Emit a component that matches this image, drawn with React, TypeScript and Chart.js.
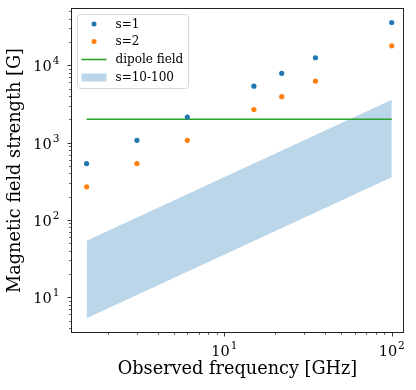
import React, { useEffect, useRef } from 'react';
import { Chart, registerables } from 'chart.js';

Chart.register(...registerables);

// Observed frequency [GHz]
const frequencies = [1.5, 3, 6, 15, 22, 35, 100];
// Magnetic field strength [G]
const fieldS1 = [536, 1071, 2143, 5357, 7857, 12500, 35714];
const fieldS2 = [268, 536, 1071, 2679, 3929, 6250, 17857];
const dipoleX = [1.5, 100];
const dipoleY = [2000, 2000];
const bandX = [1.5, 100];
const bandUpper = [53.6, 3571];
const bandLower = [5.36, 357];
const xMajorTicks = [10, 100];
const xMajorExp = ['1', '2'];
const yMajorTicks = [10, 100, 1000, 10000];
const yMajorExp = ['1', '2', '3', '4'];

const legendItems = [
  { label: 's=1', kind: 'dot', color: '#1f77b4' },
  { label: 's=2', kind: 'dot', color: '#ff7f0e' },
  { label: 'dipole field', kind: 'line', color: '#2ca02c' },
  { label: 's=10-100', kind: 'patch', color: 'rgba(31,119,180,0.3)' },
];

const FONT = '"DejaVu Serif", serif';

const decor = {
  id: 'decor',
  afterDraw(chart: any) {
    const ctx: CanvasRenderingContext2D = chart.ctx;
    const xs = chart.scales.x;
    const ys = chart.scales.y;
    const { left, right, top, bottom } = chart.chartArea;
    ctx.save();
    // frame
    ctx.strokeStyle = '#222';
    ctx.lineWidth = 1;
    ctx.strokeRect(left + 0.5, top + 0.5, right - left - 1, bottom - top - 1);

    // ticks
    ctx.strokeStyle = '#222';
    for (let d = 1; d <= 100000; d *= 10) {
      for (let m = 1; m <= 9; m++) {
        const v = m * d;
        const len = m === 1 ? 3.5 : 2;
        ctx.lineWidth = m === 1 ? 0.9 : 0.7;
        if (v >= xs.min && v <= xs.max) {
          const px = Math.round(xs.getPixelForValue(v)) + 0.5;
          ctx.beginPath();
          ctx.moveTo(px, bottom);
          ctx.lineTo(px, bottom + len);
          ctx.stroke();
        }
        if (v >= ys.min && v <= ys.max) {
          const py = Math.round(ys.getPixelForValue(v)) + 0.5;
          ctx.beginPath();
          ctx.moveTo(left, py);
          ctx.lineTo(left - len, py);
          ctx.stroke();
        }
      }
    }

    // tick labels
    ctx.fillStyle = '#000';
    ctx.textBaseline = 'alphabetic';
    ctx.textAlign = 'left';
    const mainFont = `14.5px ${FONT}`;
    const expFont = `10.5px ${FONT}`;
    xMajorTicks.forEach((v, i) => {
      const px = xs.getPixelForValue(v);
      ctx.font = mainFont;
      const w1 = ctx.measureText('10').width;
      ctx.font = expFont;
      const w2 = ctx.measureText(xMajorExp[i]).width;
      const x0 = px - (w1 + w2 + 1) / 2;
      ctx.font = mainFont;
      ctx.fillText('10', x0, bottom + 23);
      ctx.font = expFont;
      ctx.fillText(xMajorExp[i], x0 + w1 + 1, bottom + 16);
    });
    yMajorTicks.forEach((v, i) => {
      const py = ys.getPixelForValue(v);
      ctx.font = mainFont;
      const w1 = ctx.measureText('10').width;
      ctx.font = expFont;
      const w2 = ctx.measureText(yMajorExp[i]).width;
      const xr = 59.5;
      const x0 = xr - w2 - 1 - w1;
      ctx.font = mainFont;
      ctx.fillText('10', x0, py + 6);
      ctx.font = expFont;
      ctx.fillText(yMajorExp[i], x0 + w1 + 1, py - 1);
    });

    // axis titles
    ctx.font = `17.7px ${FONT}`;
    ctx.textAlign = 'center';
    ctx.fillText('Observed frequency [GHz]', (left + right) / 2, 374);
    ctx.save();
    ctx.translate(20, (top + bottom) / 2);
    ctx.rotate(-Math.PI / 2);
    ctx.fillText('Magnetic field strength [G]', 0, 0);
    ctx.restore();

    // legend
    const bx = 77.5, by = 14.5, bw = 111, bh = 74, r = 3;
    ctx.beginPath();
    ctx.moveTo(bx + r, by);
    ctx.lineTo(bx + bw - r, by);
    ctx.quadraticCurveTo(bx + bw, by, bx + bw, by + r);
    ctx.lineTo(bx + bw, by + bh - r);
    ctx.quadraticCurveTo(bx + bw, by + bh, bx + bw - r, by + bh);
    ctx.lineTo(bx + r, by + bh);
    ctx.quadraticCurveTo(bx, by + bh, bx, by + bh - r);
    ctx.lineTo(bx, by + r);
    ctx.quadraticCurveTo(bx, by, bx + r, by);
    ctx.closePath();
    ctx.fillStyle = 'rgba(255,255,255,0.8)';
    ctx.fill();
    ctx.strokeStyle = '#d6d6d6';
    ctx.lineWidth = 1;
    ctx.stroke();

    const rowsY = [24, 41.5, 59.5, 77.5];
    ctx.font = `12px ${FONT}`;
    ctx.textAlign = 'left';
    ctx.textBaseline = 'middle';
    legendItems.forEach((it, i) => {
      const y = rowsY[i];
      if (it.kind === 'dot') {
        ctx.fillStyle = it.color;
        ctx.beginPath();
        ctx.arc(94, y, 2.5, 0, Math.PI * 2);
        ctx.fill();
      } else if (it.kind === 'line') {
        ctx.strokeStyle = it.color;
        ctx.lineWidth = 1.6;
        ctx.beginPath();
        ctx.moveTo(81.5, y);
        ctx.lineTo(106.5, y);
        ctx.stroke();
      } else {
        ctx.fillStyle = it.color;
        ctx.fillRect(81.5, y - 4, 25, 8);
      }
      ctx.fillStyle = '#000';
      ctx.fillText(it.label, 115.5, y + 0.5);
    });
    ctx.restore();
  },
};

export default function App() {
  const ref = useRef<HTMLCanvasElement | null>(null);
  useEffect(() => {
    if (!ref.current) return;
    const pts = (xa: number[], ya: number[]) => xa.map((x, i) => ({ x, y: ya[i] }));
    const chart = new Chart(ref.current, {
      type: 'line',
      data: {
        datasets: [
          {
            label: 's=1',
            data: pts(frequencies, fieldS1),
            showLine: false,
            pointRadius: 2.6,
            pointBorderWidth: 0,
            pointBackgroundColor: '#1f77b4',
            borderColor: '#1f77b4',
            order: 1,
          },
          {
            label: 's=2',
            data: pts(frequencies, fieldS2),
            showLine: false,
            pointRadius: 2.6,
            pointBorderWidth: 0,
            pointBackgroundColor: '#ff7f0e',
            borderColor: '#ff7f0e',
            order: 1,
          },
          {
            label: 'dipole field',
            data: pts(dipoleX, dipoleY),
            borderColor: '#2ca02c',
            borderWidth: 1.6,
            pointRadius: 0,
            fill: false,
            order: 1,
          },
          {
            label: 's=10-100',
            data: pts(bandX, bandUpper),
            borderWidth: 0,
            borderColor: 'rgba(0,0,0,0)',
            backgroundColor: 'rgba(31,119,180,0.3)',
            pointRadius: 0,
            fill: '+1',
            order: 5,
          },
          {
            label: 'lower',
            data: pts(bandX, bandLower),
            borderWidth: 0,
            borderColor: 'rgba(0,0,0,0)',
            pointRadius: 0,
            fill: false,
            order: 5,
          },
        ],
      },
      options: {
        responsive: false,
        animation: false,
        layout: { padding: { left: 0, top: 8, right: 12, bottom: 0 } },
        plugins: { legend: { display: false }, tooltip: { enabled: false } },
        scales: {
          x: {
            type: 'logarithmic',
            min: 1.21,
            max: 118.4,
            ticks: { display: false },
            grid: { display: false },
            border: { display: false },
            afterFit: (s: any) => { s.height = 57; },
          },
          y: {
            type: 'logarithmic',
            min: 3.45,
            max: 55000,
            ticks: { display: false },
            grid: { display: false },
            border: { display: false },
            afterFit: (s: any) => { s.width = 71; },
          },
        },
      },
      plugins: [decor],
    } as any);
    return () => chart.destroy();
  }, []);
  return (
    <div style={{ position: 'fixed', left: 0, top: 0, width: 416, height: 390, background: '#fff' }}>
      <canvas ref={ref} width={416} height={390} />
    </div>
  );
}
